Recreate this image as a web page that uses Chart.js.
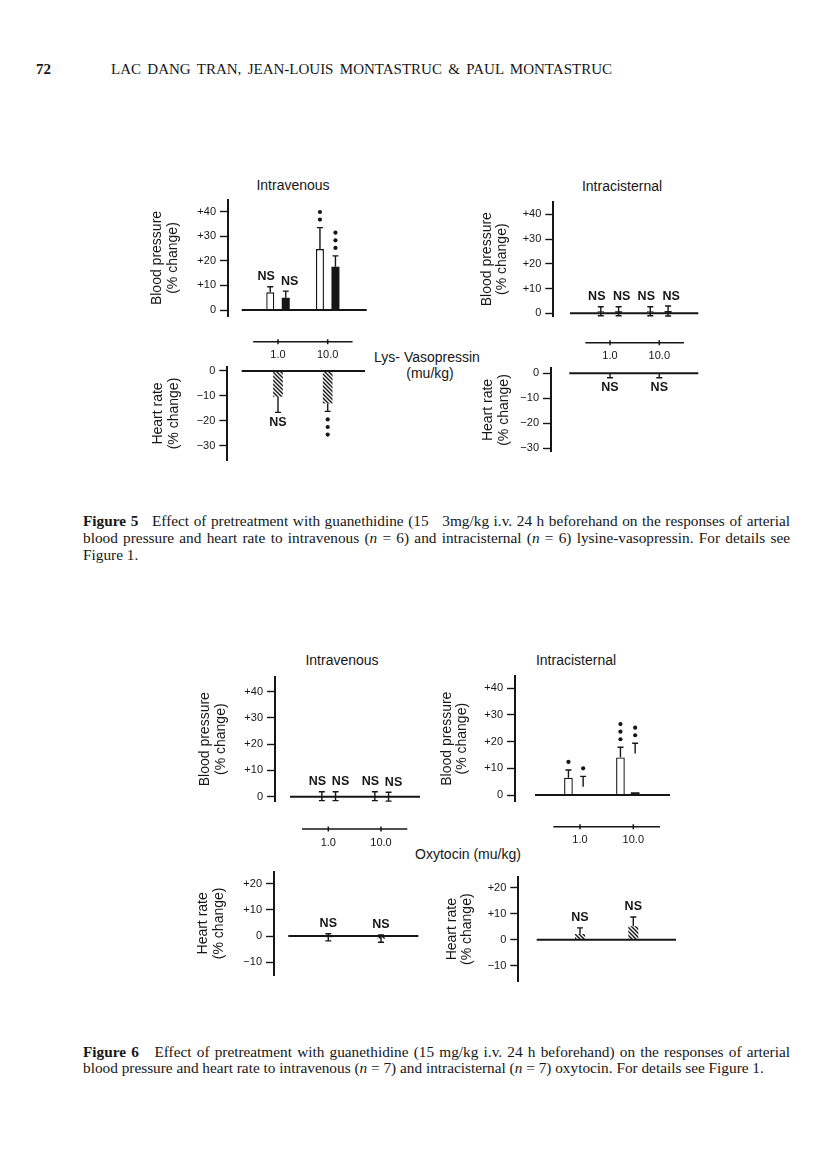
<!DOCTYPE html>
<html>
<head>
<meta charset="utf-8">
<script src="https://cdn.jsdelivr.net/npm/chart.js@4.4.1/dist/chart.umd.min.js"></script>
<style>
  body { margin: 0; background: #fff; }
  #page { position: relative; width: 816px; height: 1155px; overflow: hidden; background: #fff;
          font-family: 'Liberation Sans', Arial, sans-serif; color: #161616; }
  .t { position: absolute; white-space: nowrap; transform: translate(-50%, -50%); font-size: 14px; }
  .serif { font-family: 'Liberation Serif', 'Times New Roman', serif; }
  .line { position: absolute; white-space: nowrap; line-height: 17px; font-size: 15.3px; }
  .just { text-align: justify; text-align-last: justify; }
  canvas { position: absolute; }
</style>
</head>
<body>
<div id="page">
  <div class="line serif" style="left:36px; top:61px; font-size:15px; font-weight:bold;">72</div>
  <div class="line serif just" style="left:111px; top:61px; width:501px; font-size:15px;">LAC DANG TRAN, JEAN-LOUIS MONTASTRUC &amp; PAUL MONTASTRUC</div>

  <div class="t" style="left:293px; top:185px;">Intravenous</div>
  <div class="t" style="left:622px; top:186px;">Intracisternal</div>
  <div class="t" style="left:427px; top:357px;">Lys- Vasopressin</div>
  <div class="t" style="left:430px; top:373px;">(mu/kg)</div>

  <div class="line serif just" style="left:83px; top:512px; width:707px;"><b>Figure 5</b>&nbsp;&nbsp; Effect of pretreatment with guanethidine (15&nbsp;&nbsp; 3mg/kg i.v. 24 h beforehand on the responses of arterial</div>
  <div class="line serif just" style="left:83px; top:529px; width:707px;">blood pressure and heart rate to intravenous (<i>n</i> = 6) and intracisternal (<i>n</i> = 6) lysine-vasopressin. For details see</div>
  <div class="line serif" style="left:83px; top:546px;">Figure 1.</div>

  <div class="t" style="left:342px; top:660px;">Intravenous</div>
  <div class="t" style="left:576px; top:660px;">Intracisternal</div>
  <div class="t" style="left:468px; top:854px;">Oxytocin (mu/kg)</div>

  <div class="line serif just" style="left:83px; top:1043px; width:707px;"><b>Figure 6</b>&nbsp;&nbsp; Effect of pretreatment with guanethidine (15 mg/kg i.v. 24 h beforehand) on the responses of arterial</div>
  <div class="line serif" style="left:83px; top:1059px;">blood pressure and heart rate to intravenous (<i>n</i> = 7) and intracisternal (<i>n</i> = 7) oxytocin. For details see Figure 1.</div>
</div>

<script>
// doses (mu/kg) and axis ticks
const doses = [1, 10];
const doseLabels = ['1.0', '10.0'];
const bpTicks = [0, 10, 20, 30, 40];
const hrTicksFig5 = [-30, -20, -10, 0];
const hrTicksFig6 = [-10, 0, 10, 20];

// Figure 5, lysine-vasopressin, intravenous
const f5IvBpOpen = [7.2, 24.8];
const f5IvBpOpenSem = [2.3, 8.7];
const f5IvBpOpenSig = ['NS', 2];
const f5IvBpFilled = [5.0, 17.6];
const f5IvBpFilledSem = [2.7, 4.4];
const f5IvBpFilledSig = ['NS', 3];
const f5IvHr = [-10.3, -13.0];
const f5IvHrSem = [6.3, 3.2];
const f5IvHrSig = ['NS', 3];

// Figure 5, intracisternal
const f5IcBpOpen = [0.8, 0.8];
const f5IcBpOpenSem = [1.8, 1.8];
const f5IcBpFilled = [0.8, 0.9];
const f5IcBpFilledSem = [1.8, 2.0];
const f5IcBpSig = ['NS', 'NS'];
const f5IcHr = [-0.3, -0.3];
const f5IcHrSem = [1.5, 1.5];
const f5IcHrSig = ['NS', 'NS'];

// Figure 6, oxytocin, intravenous
const f6IvBpOpen = [0.2, 0.2];
const f6IvBpOpenSem = [1.7, 1.7];
const f6IvBpFilled = [0.2, 0.0];
const f6IvBpFilledSem = [1.7, 1.7];
const f6IvBpSig = ['NS', 'NS'];
const f6IvHr = [-0.5, -1.0];
const f6IvHrSem = [1.35, 1.4];
const f6IvHrSig = ['NS', 'NS'];

// Figure 6, intracisternal
const f6IcBpOpen = [6.5, 14.1];
const f6IcBpOpenSem = [2.9, 3.8];
const f6IcBpOpenSig = [1, 3];
const f6IcBpFilled = [0.4, 1.0];
const f6IcBpFilledErrLow = [3.1, 15.6];
const f6IcBpFilledErrHigh = [7.0, 19.4];
const f6IcBpFilledSig = [1, 2];
const f6IcHr = [2.3, 5.2];
const f6IcHrSem = [2.3, 3.6];
const f6IcHrSig = ['NS', 'NS'];

const ink = '#161616';
const sans = "'Liberation Sans', Arial, sans-serif";
const bpTitle = ['Blood pressure', '(% change)'];
const hrTitle = ['Heart rate', '(% change)'];

function hatch() {
  const c = document.createElement('canvas');
  c.width = c.height = 4;
  const g = c.getContext('2d');
  g.strokeStyle = ink;
  g.lineWidth = 1.4;
  g.beginPath();
  g.moveTo(-1, -1); g.lineTo(5, 5);
  g.moveTo(-1, 3); g.lineTo(1, 5);
  g.moveTo(3, -1); g.lineTo(5, 1);
  g.stroke();
  return g.createPattern(c, 'repeat');
}

function series(kind, vals, extra) {
  const d = { data: doses.map((x, i) => ({ x: x, y: vals[i] })), borderSkipped: 'start' };
  if (kind === 'open') Object.assign(d, { backgroundColor: '#fff', borderColor: ink, borderWidth: 1.4 });
  if (kind === 'filled') Object.assign(d, { backgroundColor: ink, borderWidth: 0 });
  if (kind === 'hatch') Object.assign(d, { backgroundColor: hatch(), borderWidth: 0 });
  return Object.assign(d, extra);
}

function tickText(v) {
  if (v > 0) return '+' + v;
  if (v < 0) return '\u2212' + Math.abs(v);
  return '0';
}

// baseline, error bars, significance marks and the dose axis
function marks(p) {
  return {
    id: 'marks',
    afterDatasetsDraw(chart) {
      const ctx = chart.ctx;
      const xs = chart.scales.x, ys = chart.scales.y;
      const y0 = ys.getPixelForValue(0);
      ctx.save();
      ctx.strokeStyle = ink;
      ctx.fillStyle = ink;
      ctx.lineWidth = 2;
      ctx.beginPath();
      ctx.moveTo(p.base[0] - p.left, y0);
      ctx.lineTo(p.base[1] - p.left, y0);
      ctx.stroke();

      chart.data.datasets.forEach((ds, di) => {
        chart.getDatasetMeta(di).data.forEach((bar, i) => {
          const v = ds.data[i].y;
          let lo, hi;
          if (ds.errLow) { lo = ds.errLow[i]; hi = ds.errHigh[i]; }
          else if (ds.errBoth) { lo = v - ds.sem[i]; hi = v + ds.sem[i]; }
          else if (v >= 0) { lo = v; hi = v + ds.sem[i]; }
          else { lo = v - ds.sem[i]; hi = v; }
          const yl = ys.getPixelForValue(lo), yh = ys.getPixelForValue(hi);
          ctx.lineWidth = 1.4;
          ctx.beginPath();
          ctx.moveTo(bar.x, yl); ctx.lineTo(bar.x, yh);
          if (ds.errLow || ds.errBoth || v >= 0) { ctx.moveTo(bar.x - 3, yh); ctx.lineTo(bar.x + 3, yh); }
          if (ds.errBoth || (!ds.errLow && v < 0)) { ctx.moveTo(bar.x - 3, yl); ctx.lineTo(bar.x + 3, yl); }
          ctx.stroke();

          const m = ds.sig ? ds.sig[i] : null;
          if (m == null) return;
          const up = ds.sigSide !== 'down';
          const ye = up ? yh : yl, dir = up ? -1 : 1;
          if (m === 'NS') {
            ctx.font = 'bold 12.5px ' + sans;
            ctx.textAlign = 'center';
            ctx.textBaseline = 'middle';
            ctx.fillText('NS', bar.x + (ds.nsShift || 0), ye + dir * 10);
          } else {
            for (let k = 0; k < m; k++) {
              ctx.beginPath();
              ctx.arc(bar.x, ye + dir * (8 + k * 7.6), 2.1, 0, Math.PI * 2);
              ctx.fill();
            }
          }
        });
      });

      if (p.doseY) {
        const yy = p.doseY - p.canvasTop;
        ctx.lineWidth = 1.5;
        ctx.beginPath();
        ctx.moveTo(xs.getPixelForValue(Math.pow(10, -0.5)), yy);
        ctx.lineTo(xs.getPixelForValue(Math.pow(10, 1.5)), yy);
        doses.forEach(d => {
          const px = xs.getPixelForValue(d);
          ctx.moveTo(px, yy - 2.5); ctx.lineTo(px, yy + 2.5);
        });
        ctx.stroke();
        ctx.font = '11px ' + sans;
        ctx.textAlign = 'center';
        ctx.textBaseline = 'middle';
        doses.forEach((d, i) => ctx.fillText(doseLabels[i], xs.getPixelForValue(d), yy + 13.5));
      }
      ctx.restore();
    }
  };
}

function makePanel(p, datasets) {
  const boxW = p.axisX - (p.titleX - 7.85);
  const left = Math.floor(p.axisX - boxW - 4);
  const top = Math.floor(p.doseY ? p.doseY - 12 : p.top - 14);
  const width = Math.ceil(p.right + 8 - left);
  const height = Math.ceil(p.bottom + 12 - top);
  p.left = left;
  p.canvasTop = top;

  const cv = document.createElement('canvas');
  cv.width = width; cv.height = height;
  cv.style.left = left + 'px'; cv.style.top = top + 'px';
  cv.style.width = width + 'px'; cv.style.height = height + 'px';
  document.getElementById('page').appendChild(cv);

  const dec = p.p10 - p.p1;
  datasets.forEach(d => {
    if (datasets.length === 2) {
      d.categoryPercentage = 2 * p.pair / dec;
      d.barPercentage = p.barW / p.pair;
    } else {
      d.categoryPercentage = 1;
      d.barPercentage = p.barW / dec;
    }
  });

  new Chart(cv, {
    type: 'bar',
    data: { datasets: datasets },
    options: {
      responsive: false,
      animation: false,
      events: [],
      layout: { padding: { left: p.axisX - boxW - left, top: p.top - top, right: left + width - p.right, bottom: top + height - p.bottom } },
      plugins: { legend: { display: false }, tooltip: { enabled: false } },
      scales: {
        x: {
          type: 'logarithmic',
          display: false,
          min: Math.pow(10, -(p.p1 - p.axisX) / dec),
          max: Math.pow(10, (p.right - p.p1) / dec),
          afterBuildTicks: s => { s.ticks = doses.map(v => ({ value: v })); }
        },
        y: {
          min: p.yMin,
          max: p.yMax,
          afterBuildTicks: s => { s.ticks = p.ticks.map(v => ({ value: v })); },
          afterFit: s => { s.width = boxW; },
          ticks: { callback: v => tickText(v), color: ink, padding: 4, font: { family: sans, size: 11 } },
          grid: { drawOnChartArea: false, drawTicks: true, tickLength: 8, tickColor: ink, tickWidth: 1.4 },
          border: { display: true, color: ink, width: 2 },
          title: { display: true, text: p.title, color: ink, padding: 0, font: { family: sans, size: 14, lineHeight: 1.12 } }
        }
      }
    },
    plugins: [marks(p)]
  });
}

// Figure 5
makePanel({ axisX: 228, top: 200, bottom: 316, right: 366.7, yMin: -2.4, yMax: 44.7, ticks: bpTicks,
            p1: 278, p10: 327.7, base: [241.7, 366.7], titleX: 157, pair: 15.5, barW: 8, title: bpTitle }, [
  series('open', f5IvBpOpen, { sem: f5IvBpOpenSem, sig: f5IvBpOpenSig, nsShift: -4 }),
  series('filled', f5IvBpFilled, { sem: f5IvBpFilledSem, sig: f5IvBpFilledSig, nsShift: 4 })
]);
makePanel({ axisX: 553.3, top: 201.7, bottom: 316.7, right: 698.3, yMin: -1.4, yMax: 45.1, ticks: bpTicks,
            p1: 609.7, p10: 659.2, base: [570, 698.3], titleX: 486.7, pair: 17.8, barW: 7, title: bpTitle }, [
  series('open', f5IcBpOpen, { sem: f5IcBpOpenSem, errBoth: true, sig: f5IcBpSig, nsShift: -4 }),
  series('filled', f5IcBpFilled, { sem: f5IcBpFilledSem, errBoth: true, sig: f5IcBpSig, nsShift: 3 })
]);
makePanel({ axisX: 227.3, top: 367, bottom: 460, right: 365, yMin: -35.7, yMax: 1.6, ticks: hrTicksFig5,
            p1: 278, p10: 327.7, base: [241.7, 365], titleX: 158, barW: 9.7, doseY: 341.7, title: hrTitle }, [
  series('hatch', f5IvHr, { sem: f5IvHrSem, sig: f5IvHrSig, sigSide: 'down' })
]);
makePanel({ axisX: 551, top: 368.3, bottom: 451.7, right: 698.3, yMin: -31.4, yMax: 2.0, ticks: hrTicksFig5,
            p1: 610, p10: 659.3, base: [569.3, 698.3], titleX: 488, barW: 8, doseY: 342.7, title: hrTitle }, [
  series('hatch', f5IcHr, { sem: f5IcHrSem, sig: f5IcHrSig, sigSide: 'down' })
]);

// Figure 6
makePanel({ axisX: 275, top: 676.7, bottom: 801.7, right: 420, yMin: -1.9, yMax: 45.7, ticks: bpTicks,
            p1: 328.7, p10: 381.7, base: [290, 420], titleX: 205, pair: 13.7, barW: 7, title: bpTitle }, [
  series('open', f6IvBpOpen, { sem: f6IvBpOpenSem, errBoth: true, sig: f6IvBpSig, nsShift: -4.5 }),
  series('filled', f6IvBpFilled, { sem: f6IvBpFilledSem, errBoth: true, sig: f6IvBpSig, nsShift: 5 })
]);
makePanel({ axisX: 515, top: 675.7, bottom: 801.7, right: 670, yMin: -2.5, yMax: 44.7, ticks: bpTicks,
            p1: 575.8, p10: 627.8, base: [535, 670], titleX: 446.7, pair: 14.7, barW: 8.7, title: bpTitle }, [
  series('open', f6IcBpOpen, { sem: f6IcBpOpenSem, sig: f6IcBpOpenSig }),
  series('filled', f6IcBpFilled, { errLow: f6IcBpFilledErrLow, errHigh: f6IcBpFilledErrHigh, sig: f6IcBpFilledSig })
]);
makePanel({ axisX: 274, top: 871.7, bottom: 975, right: 418.3, yMin: -14.9, yMax: 24.6, ticks: hrTicksFig6,
            p1: 328.3, p10: 381, base: [288.3, 418.3], titleX: 203.3, barW: 8, doseY: 829, title: hrTitle }, [
  series('hatch', f6IvHr, { sem: f6IvHrSem, errBoth: true, sig: f6IvHrSig })
]);
makePanel({ axisX: 518.3, top: 876.7, bottom: 981.7, right: 676, yMin: -16.1, yMax: 24.3, ticks: hrTicksFig6,
            p1: 580, p10: 633.3, base: [536.7, 676], titleX: 451.7, barW: 10, doseY: 826.7, title: hrTitle }, [
  series('hatch', f6IcHr, { sem: f6IcHrSem, sig: f6IcHrSig })
]);
</script>
</body>
</html>
